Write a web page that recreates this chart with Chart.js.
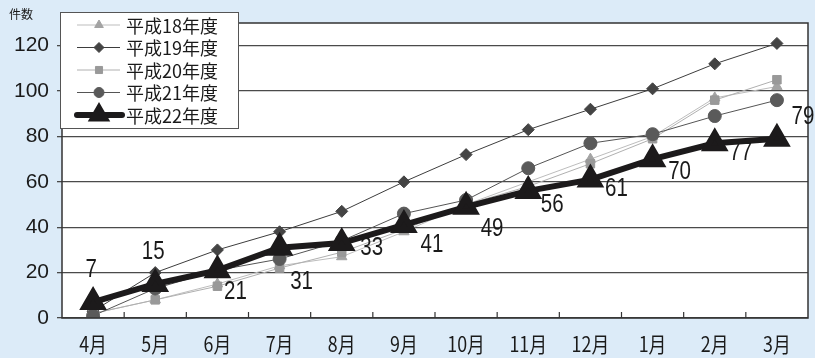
<!DOCTYPE html>
<html>
<head>
<meta charset="utf-8">
<script src="https://cdn.jsdelivr.net/npm/chart.js@4"></script>
<style>
  html, body { margin: 0; padding: 0; background: #dcebf8; }
  #wrap { width: 815px; height: 358px; position: relative; }
</style>
</head>
<body>
<div id="wrap"><canvas id="caseChart" width="815" height="358"></canvas></div>
<script>
var months = ['4月', '5月', '6月', '7月', '8月', '9月', '10月', '11月', '12月', '1月', '2月', '3月'];
var h18 = [2, 8, 15, 23, 27, 38, 50, 60, 70, 80, 97, 102];
var h19 = [3, 20, 30, 38, 47, 60, 72, 83, 92, 101, 112, 121];
var h20 = [2, 8, 14, 22, 29, 39, 50, 58, 68, 79, 96, 105];
var h21 = [1, 13, 21, 26, 34, 46, 52, 66, 77, 81, 89, 96];
var h22 = [7, 15, 21, 31, 33, 41, 49, 56, 61, 70, 77, 79];
var yTicks = [0, 20, 40, 60, 80, 100, 120];

// where each value label of 平成22年度 sits, relative to its point
var labelOffsets = [[-2, -32], [-2, -32], [18, 22], [22, 34], [30, 5], [28, 20], [26, 22], [24, 14], [26, 10], [27, 13], [26, 10], [26, -22]];

var numFont = '"Liberation Sans", "DejaVu Sans", sans-serif';
var cjkFont = '"Noto Sans CJK JP", "Noto Sans", sans-serif';

// narrow text like the original print
function narrowText(c, txt, x, y, sx) {
    c.save();
    c.translate(x, y);
    c.scale(sx, 1);
    c.fillText(txt, 0, 0);
    c.restore();
}

var frame = {
    id: 'frame',
    beforeDraw: function (chart) {
        var c = chart.ctx, a = chart.chartArea;
        c.save();
        c.fillStyle = '#ffffff';
        c.fillRect(a.left, a.top, a.right - a.left, a.bottom - a.top);
        c.restore();
    },
    afterDatasetsDraw: function (chart) {
        var c = chart.ctx, a = chart.chartArea, x = chart.scales.x;
        c.save();
        c.strokeStyle = '#333';
        c.lineWidth = 1.5;
        c.strokeRect(a.left, a.top, a.right - a.left, a.bottom - a.top);
        // little tick marks between months, pointing up
        c.lineWidth = 1.2;
        for (var i = 0; i < months.length - 1; i++) {
            var px = (x.getPixelForValue(i) + x.getPixelForValue(i + 1)) / 2;
            c.beginPath();
            c.moveTo(px, a.bottom);
            c.lineTo(px, a.bottom - 6);
            c.stroke();
        }
        // month labels
        c.fillStyle = '#1a1a1a';
        c.font = '21px ' + cjkFont;
        c.textAlign = 'center';
        c.textBaseline = 'middle';
        months.forEach(function (m, i) {
            narrowText(c, m, x.getPixelForValue(i), 344, 0.85);
        });
        // 件数
        c.font = '12px ' + cjkFont;
        c.textBaseline = 'top';
        c.textAlign = 'left';
        c.fillText('件数', 9, 8);

        // value labels for 平成22年度
        var meta = chart.getDatasetMeta(4);
        c.font = '25px ' + numFont;
        c.textAlign = 'center';
        c.textBaseline = 'middle';
        meta.data.forEach(function (pt, i) {
            narrowText(c, String(h22[i]), pt.x + labelOffsets[i][0], pt.y + labelOffsets[i][1], 0.82);
        });

        // legend box
        var lx = 60, ly = 12, lw = 178, lh = 116;
        c.fillStyle = '#ffffff';
        c.fillRect(lx, ly, lw, lh);
        c.strokeStyle = '#555';
        c.lineWidth = 1;
        c.strokeRect(lx + 0.5, ly + 0.5, lw, lh);
        chart.data.datasets.forEach(function (ds, i) {
            var cy = ly + 13 + i * 22.5;
            c.strokeStyle = ds.borderColor;
            c.lineWidth = ds.borderWidth;
            c.lineCap = i === 4 ? 'round' : 'butt';
            c.beginPath();
            c.moveTo(77, cy);
            c.lineTo(i === 4 ? 122 : 120, cy);
            c.stroke();
            c.fillStyle = ds.pointBackgroundColor;
            c.strokeStyle = ds.pointBorderColor;
            Chart.helpers.drawPoint(c, {
                pointStyle: ds.pointStyle,
                radius: i === 4 ? 7 : 5,
                borderWidth: 1
            }, 99, cy);
            c.fillStyle = '#1a1a1a';
            c.font = '18px ' + cjkFont;
            c.textAlign = 'left';
            c.textBaseline = 'middle';
            c.fillText(ds.label, 126, cy + 1);
        });
        c.restore();
    }
};

var ctx = document.getElementById('caseChart');
var myLineChart = new Chart(ctx, {
    type: 'line',
    data: {
        labels: months,
        datasets: [{
            label: '平成18年度',
            data: h18,
            borderColor: '#bdbdbd',
            borderWidth: 1,
            pointStyle: 'triangle',
            pointRadius: 6,
            pointBackgroundColor: '#a3a3a3',
            pointBorderColor: '#a3a3a3',
            order: 4
        }, {
            label: '平成19年度',
            data: h19,
            borderColor: '#3d3d3d',
            borderWidth: 1,
            pointStyle: 'rectRot',
            pointRadius: 6,
            pointBackgroundColor: '#444444',
            pointBorderColor: '#444444',
            order: 3
        }, {
            label: '平成20年度',
            data: h20,
            borderColor: '#b0b0b0',
            borderWidth: 1,
            pointStyle: 'rect',
            pointRadius: 6,
            pointBackgroundColor: '#999999',
            pointBorderColor: '#999999',
            order: 2
        }, {
            label: '平成21年度',
            data: h21,
            borderColor: '#555555',
            borderWidth: 1,
            pointStyle: 'circle',
            pointRadius: 6.5,
            pointBackgroundColor: '#5a5a5a',
            pointBorderColor: '#5a5a5a',
            order: 1
        }, {
            label: '平成22年度',
            data: h22,
            borderColor: '#1c1a1b',
            borderWidth: 6,
            pointStyle: 'triangle',
            pointRadius: 10,
            pointBackgroundColor: '#1c1a1b',
            pointBorderColor: '#1c1a1b',
            order: 0
        }]
    },
    options: {
        responsive: false,
        animation: false,
        layout: { autoPadding: false, padding: { top: 23, right: 7, left: 0, bottom: 0 } },
        plugins: {
            legend: { display: false },
            tooltip: { enabled: false }
        },
        scales: {
            x: {
                offset: true,
                grid: { display: false },
                border: { display: false },
                ticks: { display: false },
                afterFit: function (scale) { scale.height = 40; }
            },
            y: {
                min: 0,
                max: 130,
                afterBuildTicks: function (scale) {
                    scale.ticks = yTicks.map(function (v) { return { value: v }; });
                },
                grid: { color: '#4a4a4a', lineWidth: 1.3, drawTicks: true, tickLength: 5, tickColor: '#4a4a4a' },
                border: { display: false },
                ticks: {
                    color: '#1a1a1a',
                    padding: 8,
                    font: { size: 21, family: '"Liberation Sans", sans-serif' }
                },
                afterFit: function (scale) { scale.width = 62; }
            }
        }
    },
    plugins: [frame]
});
</script>
</body>
</html>
